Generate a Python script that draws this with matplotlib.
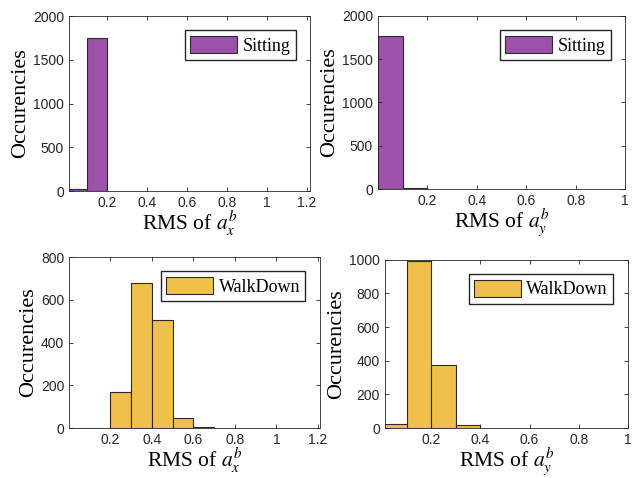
import matplotlib
matplotlib.use("Agg")
import matplotlib.pyplot as plt
import numpy as np

plt.rcParams["font.family"] = ["Liberation Sans", "DejaVu Sans"]
plt.rcParams["mathtext.fontset"] = "stix"

# Bin edges (width 0.1) and counts
edges = np.round(np.arange(0, 1.25, 0.1), 2)
sit_x = [30, 1745]
sit_y = [1765, 10]
walk_x = [0, 0, 168, 677, 507, 48, 3]
walk_y = [22, 990, 375, 16]

PURPLE = "#9B52A8"
YELLOW = "#F0C04C"
EDGE = "#2b2b2b"
SERIF = ["Liberation Serif", "DejaVu Serif"]

panels = [
    # counts, color, label, xlabel, xlim, ylim, yticks, xticks, rect
    (sit_x, PURPLE, "Sitting", r"RMS of $a_x^b$", (0.01, 1.215), (0, 2000),
     [0, 500, 1000, 1500, 2000], [0.2, 0.4, 0.6, 0.8, 1, 1.2],
     [0.1085, 0.600, 0.379, 0.3665]),
    (sit_y, PURPLE, "Sitting", r"RMS of $a_y^b$", (0, 1.0), (0, 2000),
     [0, 500, 1000, 1500, 2000], [0.2, 0.4, 0.6, 0.8, 1],
     [0.594, 0.6046, 0.389, 0.362]),
    (walk_x, YELLOW, "WalkDown", r"RMS of $a_x^b$", (0.0, 1.21), (0, 800),
     [0, 200, 400, 600, 800], [0.2, 0.4, 0.6, 0.8, 1, 1.2],
     [0.1085, 0.1046, 0.3945, 0.3577]),
    (walk_y, YELLOW, "WalkDown", r"RMS of $a_y^b$", (0.01, 1.0), (0, 1000),
     [0, 200, 400, 600, 800, 1000], [0.2, 0.4, 0.6, 0.8, 1],
     [0.605, 0.1046, 0.382, 0.3521]),
]

fig = plt.figure(figsize=(6.36, 4.78), dpi=100)

for counts, color, label, xlabel, xlim, ylim, yticks, xticks, rect in panels:
    ax = fig.add_axes(rect)
    left = edges[:len(counts)]
    ax.bar(left, counts, width=0.1, align="edge", color=color,
           edgecolor=EDGE, linewidth=0.8, label=label)
    ax.set_xlim(*xlim)
    ax.set_ylim(*ylim)
    ax.set_yticks(yticks)
    ax.set_xticks(xticks)
    ax.set_xticklabels([f"{t:g}" for t in xticks])
    ax.tick_params(labelsize=10, colors="#262626", direction="in",
                   length=3, top=True, right=True, width=0.6)
    for s in ax.spines.values():
        s.set_color("#262626")
        s.set_linewidth(0.6)
    ax.set_xlabel(xlabel, family=SERIF, fontsize=15.5, labelpad=-1)
    ax.set_ylabel("Occurencies", family=SERIF, fontsize=16, labelpad=2)
    ax.legend(loc="upper right", prop={"family": SERIF, "size": 13},
              fancybox=False, edgecolor="#262626", framealpha=1,
              handlelength=2.6, handleheight=1.1, handletextpad=0.3,
              borderpad=0.3, borderaxespad=0.8)

fig.savefig("out.png", dpi=100)
